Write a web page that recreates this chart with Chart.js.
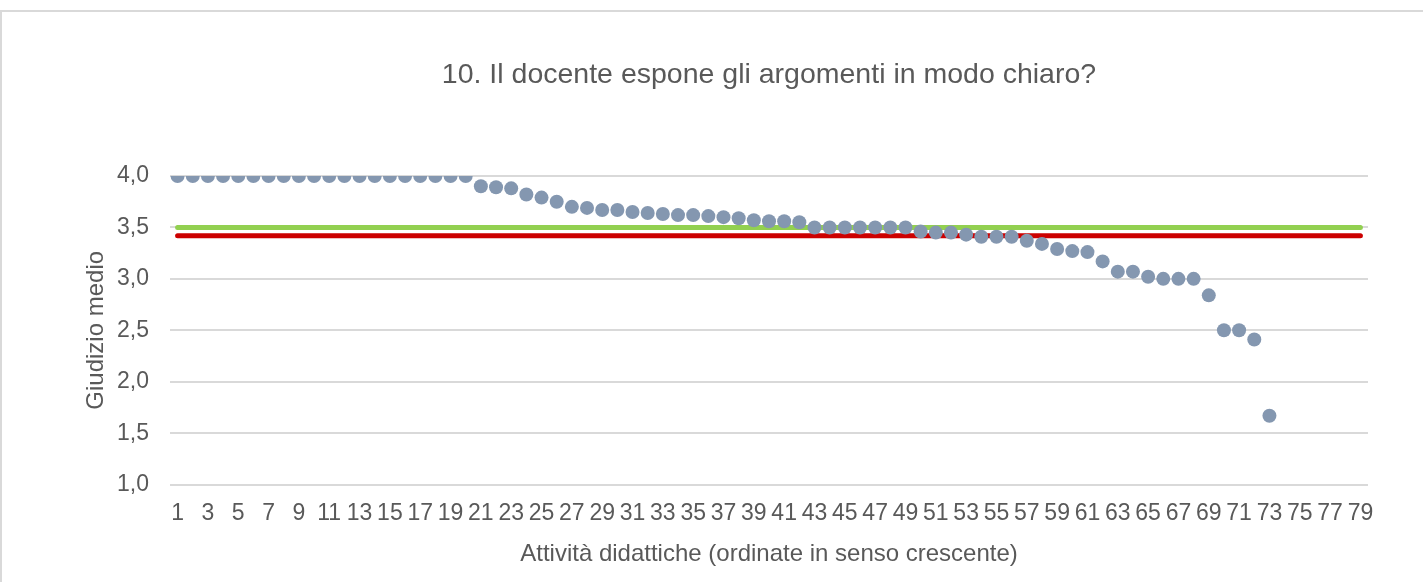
<!DOCTYPE html>
<html>
<head>
<meta charset="utf-8">
<script src="https://cdn.jsdelivr.net/npm/chart.js@4.4.0/dist/chart.umd.min.js"></script>
<style>
    html, body { margin: 0; padding: 0; background: #fff; }
    #frame {
        position: absolute; left: 0; top: 10px;
        width: 1421px; height: 600px;
        border: 2px solid #d9d9d9;
    }
    #wrap { position: absolute; left: 0; top: 0; width: 1423px; height: 582px; }
</style>
</head>
<body>
<div id="frame"></div>
<div id="wrap"><canvas id="chart"></canvas></div>
<script>
const chartTitle = '10. Il docente espone gli argomenti in modo chiaro?';
const xTitle = 'Attività didattiche (ordinate in senso crescente)';
const yTitle = 'Giudizio medio';

// categories 1..79
const categories = [
    '1', '2', '3', '4', '5', '6', '7', '8', '9', '10',
    '11', '12', '13', '14', '15', '16', '17', '18', '19', '20',
    '21', '22', '23', '24', '25', '26', '27', '28', '29', '30',
    '31', '32', '33', '34', '35', '36', '37', '38', '39', '40',
    '41', '42', '43', '44', '45', '46', '47', '48', '49', '50',
    '51', '52', '53', '54', '55', '56', '57', '58', '59', '60',
    '61', '62', '63', '64', '65', '66', '67', '68', '69', '70',
    '71', '72', '73', '74', '75', '76', '77', '78', '79'
];

// average rating per activity (sorted)
const ratings = [
    4.00, 4.00, 4.00, 4.00, 4.00, 4.00, 4.00, 4.00, 4.00, 4.00,
    4.00, 4.00, 4.00, 4.00, 4.00, 4.00, 4.00, 4.00, 4.00, 4.00,
    3.90, 3.89, 3.88, 3.82, 3.79, 3.75, 3.70, 3.69, 3.67, 3.67,
    3.65, 3.64, 3.63, 3.62, 3.62, 3.61, 3.60, 3.59, 3.57, 3.56,
    3.56, 3.55, 3.50, 3.50, 3.50, 3.50, 3.50, 3.50, 3.50, 3.46,
    3.45, 3.45, 3.43, 3.41, 3.41, 3.41, 3.37, 3.34, 3.29, 3.27,
    3.26, 3.17, 3.07, 3.07, 3.02, 3.00, 3.00, 3.00, 2.84, 2.50,
    2.50, 2.41, 1.67
];

// reference lines
const greenLevel = 3.5;
const redLevel = 3.42;

const yTicks = [1.0, 1.5, 2.0, 2.5, 3.0, 3.5, 4.0];

const greenLine = categories.map(() => greenLevel);
const redLine = categories.map(() => redLevel);

const textColor = '#595959';
const font = 'Liberation Sans, Arial, sans-serif';

// title centred over the plot area, as in the original
const plotTitle = {
    id: 'plotTitle',
    afterDraw(chart) {
        const { ctx, chartArea } = chart;
        ctx.save();
        ctx.fillStyle = textColor;
        ctx.font = '28.5px ' + font;
        ctx.textAlign = 'center';
        ctx.textBaseline = 'middle';
        ctx.fillText(chartTitle, (chartArea.left + chartArea.right) / 2, 75);
        ctx.restore();
    }
};

const ctx = document.getElementById('chart').getContext('2d');
new Chart(ctx, {
    type: 'line',
    data: {
        labels: categories,
        datasets: [
            {
                label: 'Giudizio',
                data: ratings,
                showLine: false,
                pointRadius: 7,
                pointHoverRadius: 7,
                pointBorderWidth: 0,
                pointBackgroundColor: '#8497b0',
                borderColor: '#8497b0'
            },
            {
                label: 'Soglia',
                data: greenLine,
                borderColor: '#92d050',
                borderWidth: 5,
                borderCapStyle: 'round',
                pointRadius: 0
            },
            {
                label: 'Media',
                data: redLine,
                borderColor: '#cc0000',
                borderWidth: 5,
                borderCapStyle: 'round',
                pointRadius: 0
            }
        ]
    },
    options: {
        responsive: true,
        maintainAspectRatio: false,
        animation: false,
        layout: {
            padding: { left: 82, right: 55, top: 176, bottom: 13 }
        },
        plugins: {
            legend: { display: false },
            tooltip: { enabled: false }
        },
        scales: {
            x: {
                offset: true,
                grid: { display: false },
                border: { display: false },
                ticks: {
                    autoSkip: false,
                    maxRotation: 0,
                    color: textColor,
                    font: { family: font, size: 23 },
                    padding: 7,
                    callback: (v, i) => (i % 2 === 0 ? categories[i] : '')
                },
                title: {
                    display: true,
                    text: xTitle,
                    color: textColor,
                    font: { family: font, size: 24 },
                    padding: { top: 6, bottom: 0 }
                }
            },
            y: {
                min: 1,
                max: 4,
                afterBuildTicks: (axis) => {
                    axis.ticks = yTicks.map(v => ({ value: v }));
                },
                afterFit: (axis) => {
                    axis.width = 88;
                },
                grid: { color: '#d9d9d9', lineWidth: 2, drawTicks: false },
                border: { display: false },
                ticks: {
                    color: textColor,
                    font: { family: font, size: 23 },
                    padding: 21,
                    callback: (v) => v.toFixed(1).replace('.', ',')
                },
                title: {
                    display: true,
                    text: yTitle,
                    color: textColor,
                    font: { family: font, size: 24 },
                    padding: { top: 0, bottom: 0 }
                }
            }
        }
    },
    plugins: [plotTitle]
});
</script>
</body>
</html>
